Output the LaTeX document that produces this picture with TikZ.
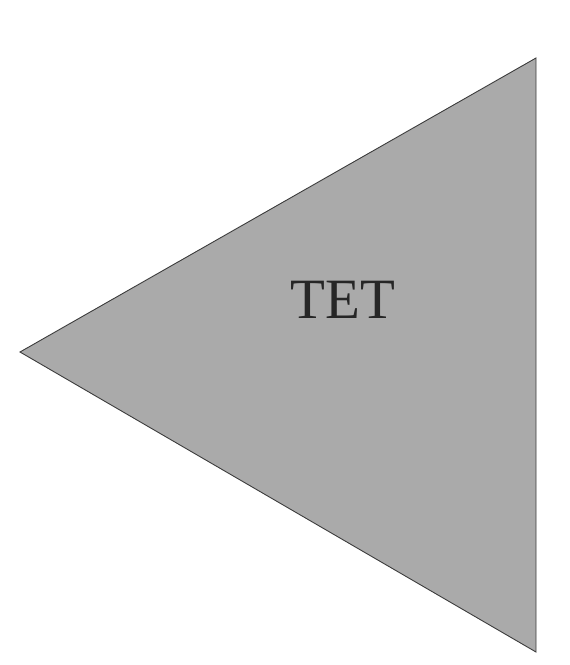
\documentclass[tikz,border=0pt]{standalone}
\usepackage{fontspec}
\setmainfont{Liberation Serif}
\usetikzlibrary{positioning}
\definecolor{tetGray}{RGB}{170,170,170}
\definecolor{tetEdge}{RGB}{60,60,60}

\begin{document}
\begin{tikzpicture}[
        x=1pt, y=-1pt,
        wedge/.style={draw=tetEdge, fill=tetGray, line width=0.9pt, line join=miter},
        tag/.style={font=\fontsize{57}{62}\selectfont, text=black!85, inner sep=0pt}
      ]
        \useasboundingbox (0,0) rectangle (570,665);
        \coordinate (tip) at (20,352);
        \coordinate (top) at (536,58);
        \coordinate (bottom) at (536,652);
        \draw[wedge] (tip) -- (top) -- (bottom) -- cycle;
        \node[tag] (tet) at (343,300) {TET};
      \end{tikzpicture}
\end{document}
